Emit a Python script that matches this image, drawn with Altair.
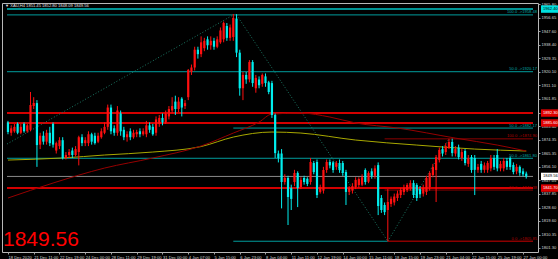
import altair as alt
import pandas as pd

# ---------------- data ----------------
opens = [1886,1879,1880,1885,1879,1885,1880,1881,1897,1899,
         1871,1877,1873,1879,1885,1867,1870,1874,1862,1864,
         1867,1864,1866,1876,1872,1872,1878,1877,1873,1876,
         1879,1883,1896,1882,1879,1892,1881,1876,1880,1876,
         1878,1880,1878,1878,1884,1883,1879,1885,1889,1886,
         1890,1894,1900,1895,1902,1897,1903,1920,1923,1935,
         1932,1936,1942,1938,1941,1937,1940,1942,1951,1943,
         1943.6,1956,1933,1909,1918,1915,1926.7,1909,1915,1912,
         1917,1913,1912.5,1891,1865,1865,1845.8,1848.5,1841.7,1845.8,
         1851.9,1842.4,1848.5,1848,1845.8,1858.6,1859.3,1839.1,1840,1853.9,
         1859.3,1859,1856,1858.6,1858.6,1852.5,1839.1,1840,1842.4,1843.8,
         1844,1853.9,1846,1853,1850,1857.2,1835,1830.3,1826.9,1831,
         1832,1835,1837,1839,1840.4,1842,1845.1,1843.8,1841,1838,
         1839.1,1842.4,1850.5,1853.9,1860.6,1868,1866,1869,1872.8,1865,
         1869,1862,1866.7,1858,1862.6,1862,1854,1858,1854,1854,
         1855,1862,1864,1855,1855,1860,1862,1857.2,1853,1856,
         1853,1851.45]
highs = [1887,1884,1885,1886,1885,1886,1885,1906.5,1903,1901,
         1879,1880,1881,1883,1886,1873,1876,1876,1866,1868,
         1869,1870,1877,1878,1876,1880,1879,1879,1879,1882,
         1886,1898,1898,1884,1897,1894,1883,1880,1882,1881,
         1881,1882,1882,1887,1886,1885,1890,1891,1892,1894,
         1897,1903,1904,1903,1903,1901,1922,1925,1937,1937,
         1944,1943,1944,1944,1943,1944,1950,1954,1953,1952,
         1959.1,1959,1935,1920,1920,1928,1928,1918,1917,1919,
         1919,1914,1914,1892,1867,1868,1851,1850,1844,1854,
         1853,1849,1850,1849,1862,1860,1861,1844,1856,1861,
         1861,1860,1860,1861,1860,1854,1843,1845,1849,1849,
         1851,1855,1853,1855,1857,1859,1837,1832,1841,1836,
         1838,1840,1842,1844,1845,1847,1847,1845,1843,1844,
         1850,1853,1858,1864,1869,1870,1872,1874.9,1875,1870,
         1871,1868,1868,1864,1864,1864,1858,1860,1859,1860,
         1864,1864,1868,1860,1862,1862,1863,1859,1858,1857,
         1855,1852.8]
lows = [1878,1877,1879,1878,1878,1879,1879,1880,1895,1856,
        1868,1871,1871,1870,1869,1865,1868,1861,1861,1862,
        1862,1863,1857,1870,1870,1870,1871,1871,1872,1875,
        1878,1881,1878,1877,1877,1877,1874,1873,1874,1875,
        1876,1876,1877,1876,1879,1877,1877,1883,1884,1885,
        1888,1892,1891,1893,1890,1895,1901,1918,1921,1929,
        1930,1934,1935,1935,1935,1936,1939,1940,1941,1941,
        1941,1930,1904,1901,1912,1913,1910,1906,1909,1910,
        1910,1905,1889,1862,1859,1828,1844,1816.8,1826.9,1843,
        1828.9,1841,1844,1843,1844,1851,1835,1838,1838,1852,
        1855,1852,1854,1852,1850,1830.3,1837,1838,1841,1842,
        1843,1844,1845,1848,1848,1823.5,1825,1823.5,1805.85,1829,
        1830,1833,1835,1837,1839,1840,1835,1833,1835,1836,
        1837,1840,1849,1832.3,1859,1863,1864,1868,1863,1863,
        1861,1860,1857,1856,1852,1837,1852,1852,1852,1852,
        1853,1854,1853,1853,1853,1854,1854,1851,1851,1850,
        1849.5,1848.09]
closes = [1879.5,1882,1883,1879,1883,1880,1884,1897.7,1899,1870.7,
          1877,1873,1879,1872,1871,1872,1874,1862,1864,1866,
          1864,1868,1876,1872,1874,1878,1873,1872,1877,1880,
          1883,1896,1880,1879,1894,1880,1876,1878,1876,1879,
          1879.5,1878,1880,1884,1881,1878,1888,1889,1886,1892,
          1895,1897,1895,1900,1896,1899,1921.3,1923,1935,1932,
          1940,1941,1938,1941,1937,1942,1948,1953,1943,1950,
          1956.4,1933,1909,1918,1915,1926.7,1912.5,1916,1911,1918,
          1912.5,1906.5,1891,1865.3,1862,1845.8,1848.5,1835.7,1834.4,1851.9,
          1841.7,1847.2,1845.8,1844.5,1859.3,1852.5,1837,1842.4,1853.9,1859.3,
          1857,1853.9,1858.6,1853.9,1851.9,1839.1,1841.7,1843,1847.2,1847.8,
          1849,1845.8,1851.9,1850,1855,1829.6,1826.9,1825.5,1832.3,1834.5,
          1836,1838,1840.4,1842,1843.8,1845.1,1837,1835,1837.5,1842,
          1848.5,1851.9,1855.9,1862.6,1867.4,1865,1870,1872.8,1865.3,1868,
          1862.6,1866,1858.6,1862,1853.9,1854,1856,1854,1857,1858.6,
          1862,1856,1855,1858,1860,1856,1855.9,1852.5,1856,1852,
          1851,1849.56]

date_labels = ["18 Dec 2020", "21 Dec 11:00", "22 Dec 19:00", "24 Dec 00:00",
               "28 Dec 11:00", "29 Dec 19:00", "31 Dec 00:00", "4 Jan 07:00",
               "5 Jan 15:00", "6 Jan 23:00", "8 Jan 04:00", "11 Jan 11:00",
               "12 Jan 19:00", "14 Jan 00:00", "15 Jan 11:00", "18 Jan 15:00",
               "19 Jan 23:00", "21 Jan 04:00", "22 Jan 15:00", "25 Jan 19:00",
               "27 Jan 00:00"]
price_ticks = [1965.80, 1956.65, 1947.60, 1938.40, 1929.35, 1920.10, 1911.10,
               1901.85, 1892.65, 1883.40, 1874.35, 1865.35, 1856.10, 1847.05,
               1837.85, 1828.60, 1819.60, 1810.35, 1801.30]

# moving averages (bar index, value)
ma_yellow_bars = [0, 17, 30, 45, 60, 70, 82, 91, 108, 127, 145, 161]
ma_yellow_vals = [1860.6, 1862.0, 1864.0, 1866.0, 1869.7, 1876.1, 1879.5,
                  1878.8, 1874.1, 1870.7, 1868.0, 1866.7]
ma_red_bars = [0, 14, 30, 45, 60, 70, 78, 82, 91, 100, 108, 121, 139, 152, 161]
ma_red_vals = [1835.0, 1845.1, 1855.2, 1862.0, 1870.1, 1878.8, 1886.2, 1891.6,
               1892.3, 1889.6, 1885.6, 1882.2, 1875.4, 1870.7, 1866.7]

# horizontal levels
level_prices = [1962.40, 1958.48, 1920.17, 1892.30, 1885.60, 1882.17, 1861.80,
                1874.90, 1849.56, 1841.70, 1840.38, 1805.85, 1805.85]
level_start = [-0.3, -0.3, -0.3, -0.3, -0.3, 70, -0.3, 117, -0.3, -0.3, 117, 70, 118]
level_end = [163.1] * 11 + [118, 163.1]
level_colors = ["#00c4c4", "#009c9c", "#009c9c", "#d40000", "#d40000", "#009c9c",
                "#009c9c", "#8b0000", "#8a8a8a", "#d40000", "#8b0000", "#009c9c",
                "#8b0000"]
level_widths = [1.5, 1, 1, 2, 2, 1, 1, 1, 1, 2, 1, 1, 1.5]

# fibonacci labels
fib_texts = ["100.0 ->1958.48", "50.0 ->1920.17", "50.0 ->1882.17",
             "50.0 ->1861.80", "100.0 ->1874.90", "50.0 ->1840.38",
             "0.0 ->1805.85"]
fib_prices = [1958.48, 1920.17, 1882.17, 1861.80, 1874.90, 1840.38, 1805.85]
fib_colors = ["#00a8a8", "#00a8a8", "#00a8a8", "#00a8a8", "#b00000",
              "#b00000", "#b00000"]

# dotted trend lines (fib anchors)
diag_id = ["a", "a", "b", "b", "c", "c"]
diag_bar = [-0.3, 70, 71, 118, 118, 137]
diag_price = [1871.4, 1958.48, 1958.48, 1805.85, 1805.85, 1874.90]

# highlighted prices on the right axis
box_prices = [1962.40, 1892.30, 1885.60, 1849.56, 1841.70]
box_texts = ["1962.40", "1892.30", "1885.60", "1849.56", "1841.70"]
box_fill = ["#00e0e0", "#e00000", "#e00000", "#ffffff", "#e00000"]
box_text_color = ["#000000", "#ffffff", "#ffffff", "#000000", "#ffffff"]

# ---------------- build tables ----------------
candles = pd.DataFrame({"i": range(len(opens)), "open": opens, "high": highs,
                        "low": lows, "close": closes})
candles["col"] = ["#ff1010" if c >= o else "#00eeee" for o, c in zip(opens, closes)]

ma = pd.concat([
    pd.DataFrame({"i": ma_yellow_bars, "v": ma_yellow_vals, "k": "y", "c": "#a8a800"}),
    pd.DataFrame({"i": ma_red_bars, "v": ma_red_vals, "k": "r", "c": "#960000"}),
])
levels = pd.DataFrame({"p": level_prices, "s": level_start, "e": level_end,
                       "c": level_colors, "w": level_widths})
fibs = pd.DataFrame({"t": fib_texts, "p": fib_prices, "c": fib_colors})
diags = pd.DataFrame({"id": diag_id, "i": diag_bar, "p": diag_price})
boxes = pd.DataFrame({"p": box_prices, "t": box_texts, "f": box_fill, "tc": box_text_color})

XS = alt.Scale(domain=[-0.3, 163.1], nice=False, zero=False)
YS = alt.Scale(domain=[1798.6, 1966.5], nice=False, zero=False)

label_expr = "[" + ",".join("'%s'" % s for s in date_labels) + "][round(datum.value/8)]"
FONT = "Liberation Sans"
SMALL = 4.1

x_axis = alt.Axis(values=list(range(0, 161, 8)), labelExpr=label_expr, orient="bottom",
                  labelAlign="left", labelBaseline="top", labelPadding=1, tickSize=2,
                  labelFontSize=SMALL, labelColor="#d8d8d8", tickColor="#a0a0a0",
                  domain=False, grid=False, labelOverlap=False, labelFlush=False,
                  title=None, labelFont=FONT)
y_axis = alt.Axis(values=price_ticks, orient="right", format=".2f", labelPadding=1,
                  tickSize=2, labelFontSize=SMALL, labelColor="#d8d8d8", tickColor="#a0a0a0",
                  domain=False, grid=False, labelOverlap=False, labelFlush=False,
                  title=None, labelFont=FONT, labelBaseline="middle")

lv = alt.Chart(levels).mark_rule().encode(
    x=alt.X("s:Q", scale=XS, axis=x_axis), x2="e:Q",
    y=alt.Y("p:Q", scale=YS, axis=y_axis),
    color=alt.Color("c:N", scale=None), strokeWidth=alt.StrokeWidth("w:Q", scale=None))

dg = alt.Chart(diags).mark_line(strokeDash=[1, 2], strokeWidth=1, color="#1c7a66").encode(
    x=alt.X("i:Q", scale=XS, axis=x_axis), y=alt.Y("p:Q", scale=YS, axis=y_axis),
    detail="id:N")

mal = alt.Chart(ma).mark_line(strokeWidth=1, interpolate="monotone").encode(
    x=alt.X("i:Q", scale=XS, axis=x_axis), y=alt.Y("v:Q", scale=YS, axis=y_axis),
    detail="k:N", color=alt.Color("c:N", scale=None))

wick = alt.Chart(candles).mark_rule(strokeWidth=1).encode(
    x=alt.X("i:Q", scale=XS, axis=x_axis), y=alt.Y("low:Q", scale=YS, axis=y_axis),
    y2="high:Q", color=alt.Color("col:N", scale=None))
body = alt.Chart(candles).mark_bar(size=2.2, minBandSize=1).encode(
    x=alt.X("i:Q", scale=XS, axis=x_axis), y=alt.Y("open:Q", scale=YS, axis=y_axis),
    y2="close:Q", color=alt.Color("col:N", scale=None))

fl = alt.Chart(fibs).mark_text(align="right", baseline="bottom", fontSize=SMALL,
                               font=FONT, dy=-0.5).encode(
    x=alt.value(535), y=alt.Y("p:Q", scale=YS, axis=y_axis), text="t:N",
    color=alt.Color("c:N", scale=None))

bx = alt.Chart(boxes).mark_rect(clip=False).transform_calculate(
    lo="datum.p - 2.5", hi="datum.p + 2.5").encode(
    x=alt.value(539), x2=alt.value(558), y=alt.Y("lo:Q", scale=YS, axis=y_axis), y2="hi:Q",
    color=alt.Color("f:N", scale=None))
bt = alt.Chart(boxes).mark_text(align="left", baseline="middle", fontSize=SMALL,
                                font=FONT).encode(
    x=alt.value(541), y=alt.Y("p:Q", scale=YS, axis=y_axis), text="t:N",
    color=alt.Color("tc:N", scale=None))

info = pd.DataFrame({"t": ["\u25bc XAU,H4  1851.45 1852.80 1848.09 1849.56"]})
title = alt.Chart(info).mark_text(align="left", baseline="top", fontSize=SMALL,
                                  font=FONT, color="#e0e0e0").encode(
    x=alt.value(3), y=alt.value(0.5), text="t:N")
big = pd.DataFrame({"t": ["1849.56"]})
bigt = alt.Chart(big).mark_text(align="left", baseline="alphabetic", fontSize=21,
                                font=FONT, color="#ff0000").encode(
    x=alt.value(1), y=alt.value(243), text="t:N")

chart = alt.layer(lv, dg, mal, wick, body, fl, bx, bt, title, bigt).properties(
    width=536, height=249,
    autosize=alt.AutoSizeParams(type="none"),
    padding={"left": 2, "top": 3, "right": 20, "bottom": 7},
    background="#000000",
).configure_view(stroke="#b8b8b8", strokeWidth=1).configure_axis(
    labelOverlap=False, labelFlush=False, labelBound=False)

chart.save("out.html", embed_options={"renderer": "svg", "actions": False})
